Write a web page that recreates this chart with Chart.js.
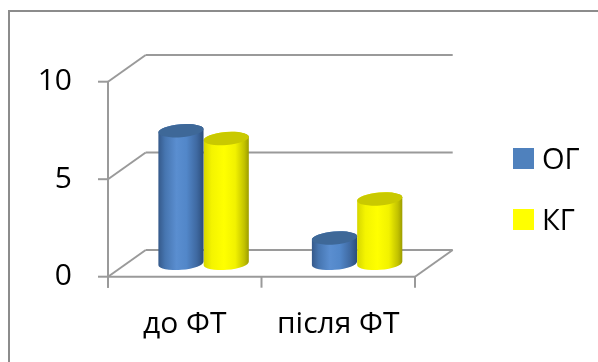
<!DOCTYPE html>
<html>
<head>
<meta charset="utf-8">
<script src="https://cdn.jsdelivr.net/npm/chart.js@4.4.1/dist/chart.umd.min.js"></script>
<style>
  html, body { margin: 0; padding: 0; background: #fff; overflow: hidden; }
  #wrap { width: 598px; height: 362px; position: relative; }
</style>
</head>
<body>
<div id="wrap"><canvas id="c" width="598" height="362"></canvas></div>
<script>
// Categories, series and axis ticks
const categories = ['до ФТ', 'після ФТ'];
const seriesNames = ['ОГ', 'КГ'];
const ogValues = [6.8, 1.3];
const kgValues = [6.4, 3.3];
const yTickValues = [0, 5, 10];

const seriesColors = ['#4f81bd', '#ffff00'];
const FONT = '"Open Sans", "Liberation Sans", sans-serif';

// Depth of the 3D box (back plane offset from the front plane)
const DEPTH = { dx: 37.7, dy: -26.7 };
const GRID = '#9a9a9a';

// Shading for the cylinder bodies and lids
const SHADES = [
  { body: [[0, '#35598a'], [0.15, '#4675b0'], [0.4, '#5a8ed0'], [0.62, '#5287c9'], [0.85, '#3f69a1'], [1, '#2c4d7a']],
    lid: '#3e6898' },
  { body: [[0, '#d6d600'], [0.18, '#f4f400'], [0.45, '#ffff00'], [0.7, '#f2f200'], [0.9, '#c2c200'], [1, '#9c9c00']],
    lid: '#c9c900' }
];

function line(ctx, x1, y1, x2, y2) {
  ctx.beginPath();
  ctx.moveTo(x1, y1);
  ctx.lineTo(x2, y2);
  ctx.stroke();
}

const frame3d = {
  id: 'frame3d',
  beforeDraw(chart) {
    const ctx = chart.ctx;
    ctx.save();
    ctx.fillStyle = '#fff';
    ctx.fillRect(0, 0, chart.width, chart.height);
    ctx.strokeStyle = '#8c8c8c';
    ctx.lineWidth = 2;
    ctx.strokeRect(9, 11, 800, 600);
    ctx.restore();
  },
  beforeDatasetsDraw(chart) {
    const { ctx, chartArea: a, scales: { x, y } } = chart;
    const { dx, dy } = DEPTH;
    ctx.save();
    ctx.strokeStyle = GRID;
    ctx.lineWidth = 2;
    ctx.lineCap = 'butt';
    // back wall gridlines, left wall diagonals and value tick marks
    yTickValues.forEach(v => {
      const py = y.getPixelForValue(v);
      line(ctx, a.left + dx, py + dy, a.right + dx, py + dy);
      line(ctx, a.left, py, a.left + dx, py + dy);
      line(ctx, a.left - 10, py, a.left, py);
    });
    const y0 = y.getPixelForValue(0);
    const yTop = y.getPixelForValue(yTickValues[yTickValues.length - 1]);
    // floor front edge and right edge
    line(ctx, a.left, y0, a.right, y0);
    line(ctx, a.right, y0, a.right + dx, y0 + dy);
    // front vertical edge of the value axis
    line(ctx, a.left, yTop, a.left, y0 + 11);
    // category boundary ticks
    const n = categories.length;
    for (let i = 0; i <= n; i++) {
      const px = a.left + (a.right - a.left) * i / n;
      line(ctx, px, y0, px, y0 + 11);
    }
    ctx.restore();
  },
  beforeDatasetDraw(chart, args) {
    const { ctx } = chart;
    const shade = SHADES[args.index];
    const { dx, dy } = DEPTH;
    const tilt = -0.08;
    ctx.save();
    args.meta.data.forEach(bar => {
      const p = bar.getProps(['x', 'y', 'base', 'width'], true);
      const cx = p.x + dx / 2;
      const top = p.y + dy / 2;
      const bottom = p.base + dy / 2;
      const rx = p.width / 2;
      const ry = 6.5;
      const g = ctx.createLinearGradient(cx - rx, 0, cx + rx, 0);
      shade.body.forEach(([o, c]) => g.addColorStop(o, c));
      ctx.beginPath();
      ctx.ellipse(cx, bottom, rx, ry, tilt, Math.PI, 0, true);
      ctx.ellipse(cx, top, rx, ry, tilt, 0, Math.PI, true);
      ctx.closePath();
      ctx.fillStyle = g;
      ctx.fill();
      ctx.beginPath();
      ctx.ellipse(cx, top, rx, ry, tilt, 0, Math.PI * 2);
      ctx.fillStyle = shade.lid;
      ctx.fill();
    });
    ctx.restore();
    return false;
  },
  afterDraw(chart) {
    // legend on the right
    const ctx = chart.ctx;
    ctx.save();
    ctx.font = '29px ' + FONT;
    ctx.textBaseline = 'alphabetic';
    ctx.textAlign = 'left';
    chart.data.datasets.forEach((ds, i) => {
      const top = 148 + i * 61;
      ctx.fillStyle = ds.backgroundColor;
      ctx.fillRect(513, top, 21, 21);
      ctx.fillStyle = '#000';
      ctx.fillText(ds.label, 542, top + 21);
    });
    ctx.restore();
  }
};

new Chart(document.getElementById('c'), {
  type: 'bar',
  data: {
    labels: categories,
    datasets: [
      { label: seriesNames[0], data: ogValues, backgroundColor: seriesColors[0] },
      { label: seriesNames[1], data: kgValues, backgroundColor: seriesColors[1] }
    ]
  },
  options: {
    responsive: false,
    devicePixelRatio: 1,
    animation: false,
    categoryPercentage: 0.59,
    barPercentage: 1.0,
    layout: { padding: { left: 0, top: 81.7, right: 183, bottom: 0 } },
    plugins: { legend: { display: false }, tooltip: { enabled: false } },
    scales: {
      x: {
        grid: { display: false, drawTicks: false },
        border: { display: false },
        ticks: { color: '#000', font: { family: FONT, size: 30 }, padding: 30, maxRotation: 0 },
        afterFit(s) { s.height = 362 - 276.7; }
      },
      y: {
        min: 0,
        max: 10,
        grid: { display: false, drawTicks: false },
        border: { display: false },
        ticks: { stepSize: 5, color: '#000', font: { family: FONT, size: 30 }, padding: 36 },
        afterFit(s) { s.width = 108; }
      }
    }
  },
  plugins: [frame3d]
});
</script>
</body>
</html>
